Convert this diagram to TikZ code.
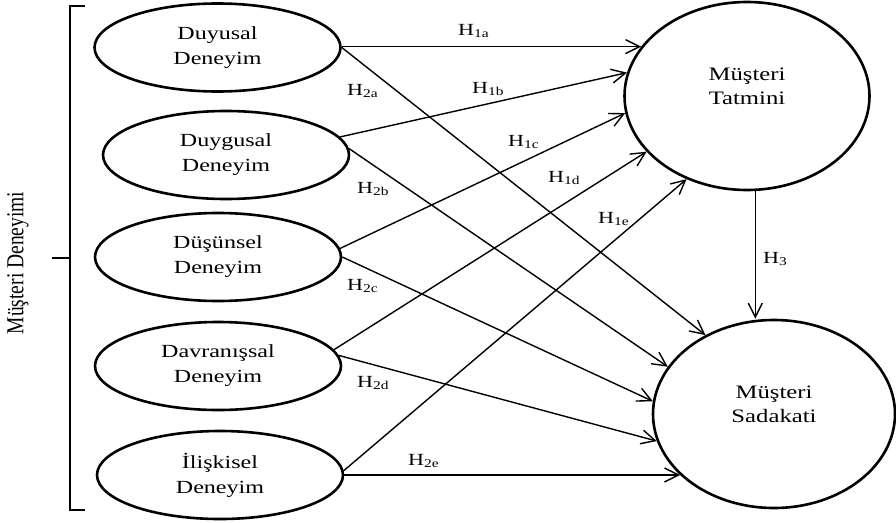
\documentclass[tikz,border=0pt]{standalone}
\usepackage{fontspec}
\setmainfont[FakeStretch=1.3]{Liberation Serif}
\newfontfamily\upfont{Liberation Serif}
\usetikzlibrary{shapes.geometric, arrows.meta}

\begin{document}
\begin{tikzpicture}[x=1pt,y=-1pt,
  exper/.style={ellipse,draw,line width=2.6pt,minimum width=246pt,minimum height=88pt,align=center,font=\fontsize{18.5}{25}\selectfont},
  big/.style={ellipse,draw,line width=2.6pt,minimum width=245pt,minimum height=188pt},
  bigtext/.style={align=center,font=\fontsize{19}{24}\selectfont},
  hyp/.style={anchor=base west,inner sep=0pt,font=\fontsize{17}{20}\selectfont},
  arr/.style={line width=1.4pt,-{Straight Barb[length=14pt,width=14pt]}}]
\useasboundingbox (0,0) rectangle (896,522);

\node[exper] (d1) at (217.5,47.5) {Duyusal\\Deneyim};
\node[exper] (d2) at (226,155) {Duygusal\\Deneyim};
\node[exper] (d3) at (218,257) {Düşünsel\\Deneyim};
\node[exper] (d4) at (218,366) {Davranışsal\\Deneyim};
\node[exper] (d5) at (220,475) {İlişkisel\\Deneyim};

\node[big] (tat) at (747,96) {};
\node[bigtext] (tatx) at ([yshift=10pt]tat.center) {Müşteri\\Tatmini};
\node[big,minimum width=242pt] (sad) at (774,414) {};
\node[bigtext] (sadx) at ([yshift=10pt]sad.center) {Müşteri\\Sadakati};

% bracket and its title
\draw[line width=2.2pt] (85,6) -- (70,6) -- (70,510) -- (85,510);
\draw[line width=2.2pt] (70,258) -- (52,258);
\node[inner sep=0pt,xscale=1.25,rotate=90,font=\upfont\fontsize{19.5}{24}\selectfont] (md) at (18,263) {Müşteri Deneyimi};

% H1
\draw[arr] (d1.east |- tat.155) -- (tat.155);
\draw[arr] (d2.9) -- (tat.169);
\draw[arr] (d3.4) -- (tat.188);
\draw[arr] (d4.8) -- (tat.209);
\draw[arr] (d5.2) -- (tat.234);
% H2
\draw[arr] (d1.east) -- (sad.131);
\draw[arr] (d2.3) -- (sad.156);
\draw[arr] (d3.east) -- (sad.174);
\draw[arr] (d4.5) -- (sad.193);
\draw[arr] (d5.east |- sad.213) -- (sad.213);
% H3
\draw[arr] (tat.275) -- (tat.275 |- sad.north);

\node[hyp] (h1a) at (458,35) {H\textsubscript{1a}};
\node[hyp] (h1b) at (472,93) {H\textsubscript{1b}};
\node[hyp] (h1c) at (508,146) {H\textsubscript{1c}};
\node[hyp] (h1d) at (548,182) {H\textsubscript{1d}};
\node[hyp] (h1e) at (598,223) {H\textsubscript{1e}};
\node[hyp] (h2a) at (347,95) {H\textsubscript{2a}};
\node[hyp] (h2b) at (357,193) {H\textsubscript{2b}};
\node[hyp] (h2c) at (347,290) {H\textsubscript{2c}};
\node[hyp] (h2d) at (357,387) {H\textsubscript{2d}};
\node[hyp] (h2e) at (408,465) {H\textsubscript{2e}};
\node[hyp] (h3) at (763,263) {H\textsubscript{3}};
\end{tikzpicture}
\end{document}
